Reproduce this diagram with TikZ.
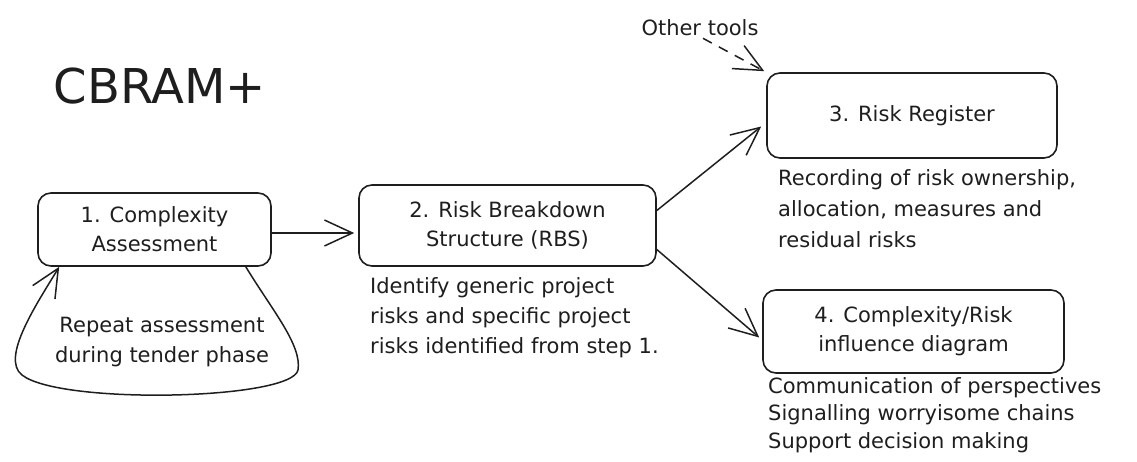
\documentclass[tikz,border=0pt]{standalone}
\usepackage{fontspec}
\setmainfont{DejaVu Sans}
\usetikzlibrary{arrows.meta}
\definecolor{ink}{HTML}{1E1E1E}
\begin{document}
\begin{tikzpicture}[x=1pt,y=-1pt,
  txt/.style={font=\fontsize{21}{29}\selectfont, text=ink, inner sep=0pt},
  box/.style={txt, draw=ink, line width=1.6pt, rounded corners=13pt, align=center},
  capt/.style={txt, align=left, anchor=north west},
  arr/.style={draw=ink, line width=1.5pt, -{Straight Barb[length=28pt,width=26pt]}},
  dasharr/.style={arr, dash pattern=on 10pt off 8pt}]
\useasboundingbox (0,0) rectangle (1137,462);
% title
\node[txt, font=\fontsize{48}{52}\selectfont] (title) at (160,86) {CBRAM+};
% boxes
\node[box, minimum width=233pt, minimum height=73pt] (b1) at (154.5,229.5) {1. Complexity\\Assessment};
\node[box, minimum width=297pt, minimum height=81pt] (b2) at (507.5,225.5) {2. Risk Breakdown\\Structure (RBS)};
\node[box, minimum width=290pt, minimum height=85pt] (b3) at (912,115.5) {3. Risk Register};
\node[box, minimum width=301pt, minimum height=83pt] (b4) at (913.5,331.5) {4. Complexity/Risk\\influence diagram};
% captions
\node[capt, font=\fontsize{21}{30}\selectfont] (c2) at (370,277) {Identify generic project\\risks and specific project\\risks identified from step 1.};
\node[capt, font=\fontsize{21}{31}\selectfont] (c3) at (778,169) {Recording of risk ownership,\\allocation, measures and\\residual risks};
\node[capt, font=\fontsize{21}{27.5}\selectfont] (c4) at (768,377) {Communication of perspectives\\Signalling worryisome chains\\Support decision making};
\node[txt, align=center, font=\fontsize{21}{30}\selectfont] (loop) at (162,342) {Repeat assessment\\during tender phase};
\node[txt] (tools) at (700,28) {Other tools};
% connectors
\draw[arr] ([yshift=-3.5pt]b1.east) -- ([xshift=-4pt,yshift=-7.5pt]b2.west);
\draw[arr] ([yshift=15pt]b2.east) -- ([xshift=-5pt,yshift=-11pt]b3.west);
\draw[arr] ([yshift=-24pt]b2.east) -- ([xshift=-3pt,yshift=-6pt]b4.west);
\draw[dasharr] ([xshift=3pt,yshift=-2pt]tools.south) -- ([xshift=-2pt,yshift=1pt]b3.north west);
\draw[arr] ([xshift=-26pt]b1.south east)
  .. controls (272,310) and (302,345) .. (298,370)
  .. controls (292,400) and (60,405) .. (22,375)
  .. controls (0,358) and (38,302) .. ([xshift=22pt]b1.south west);
\end{tikzpicture}
\end{document}
